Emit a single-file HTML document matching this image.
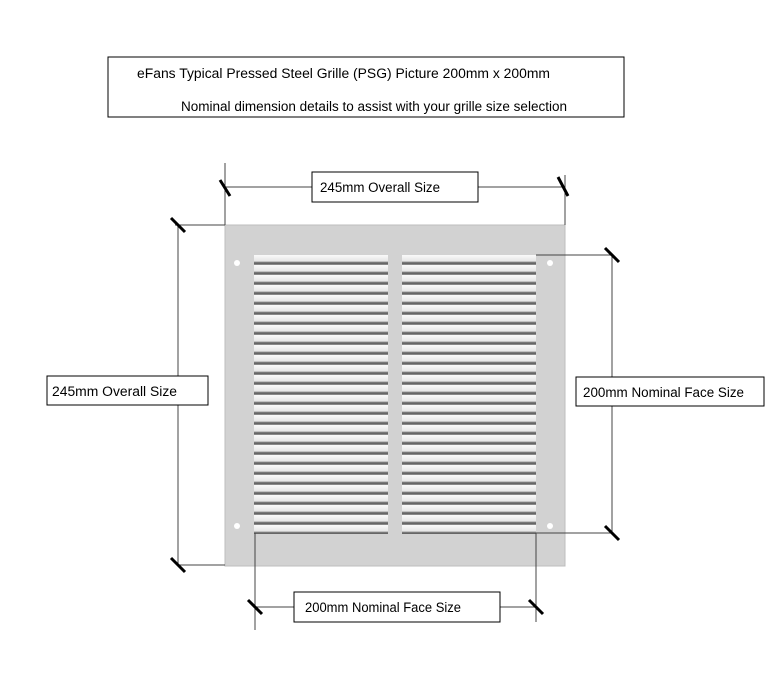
<!DOCTYPE html>
<html><head><style>
body{margin:0;background:#fff;width:781px;height:682px;overflow:hidden;font-family:"Liberation Sans",sans-serif}
</style></head><body>
<svg width="781" height="682" xmlns="http://www.w3.org/2000/svg" font-family="Liberation Sans, sans-serif" font-size="13.5">
<defs>
<linearGradient id="sl" x1="0" y1="0" x2="0" y2="1">
<stop offset="0" stop-color="#fafafa"/><stop offset="0.6" stop-color="#e6e6e6"/><stop offset="0.8" stop-color="#555"/><stop offset="1" stop-color="#9a9a9a"/>
</linearGradient>
<pattern id="lv" x="0" y="255" width="10" height="10" patternUnits="userSpaceOnUse">
<rect width="10" height="10" fill="url(#sl)"/>
</pattern>
</defs>
<rect x="108" y="57" width="516" height="60" fill="#fff" stroke="#000" stroke-width="1"/>
<text x="137" y="78" textLength="413" lengthAdjust="spacingAndGlyphs">eFans Typical Pressed Steel Grille (PSG) Picture 200mm x 200mm</text>
<text x="181" y="111" textLength="386" lengthAdjust="spacingAndGlyphs">Nominal dimension details to assist with your grille size selection</text>
<rect x="225" y="225" width="340" height="341" fill="#d2d2d2"/>
<rect x="225" y="225" width="340" height="341" fill="none" stroke="#bdbdbd"/>
<rect x="254" y="255" width="134" height="279" fill="url(#lv)"/>
<rect x="402" y="255" width="134" height="279" fill="url(#lv)"/>
<circle cx="237" cy="263" r="3" fill="#fff"/>
<circle cx="550" cy="263" r="3" fill="#fff"/>
<circle cx="237" cy="526" r="3" fill="#fff"/>
<circle cx="550" cy="526" r="3" fill="#fff"/>
<g stroke="#444" stroke-width="1" fill="none">
<path d="M225 163V225M565 175V225M225 187H312M478 187H565"/>
<path d="M175 225H225M178 225V565M178 565H225"/>
<path d="M536 255H612M612 255V533M536 533H612"/>
<path d="M255 533V630M536 533V622M255 607H294M500 607H536"/>
</g>
<g stroke="#000" stroke-width="3">
<path d="M220 180L230 196M558 177L568 196"/>
<path d="M171 218L185 232M171 558L185 572"/>
<path d="M605 248L619 262M605 526L619 540"/>
<path d="M248 600L262 614M529 600L543 614"/>
</g>
<g fill="#fff" stroke="#000">
<rect x="312" y="172" width="166" height="30"/>
<rect x="47" y="376" width="161" height="29"/>
<rect x="576" y="377" width="188" height="29"/>
<rect x="294" y="592" width="206" height="30"/>
</g>
<text x="320" y="192" textLength="120" lengthAdjust="spacingAndGlyphs">245mm Overall Size</text>
<text x="52" y="396" textLength="125" lengthAdjust="spacingAndGlyphs">245mm Overall Size</text>
<text x="583" y="397" textLength="161" lengthAdjust="spacingAndGlyphs">200mm Nominal Face Size</text>
<text x="305" y="612" textLength="156" lengthAdjust="spacingAndGlyphs">200mm Nominal Face Size</text>
</svg>
</body></html>
